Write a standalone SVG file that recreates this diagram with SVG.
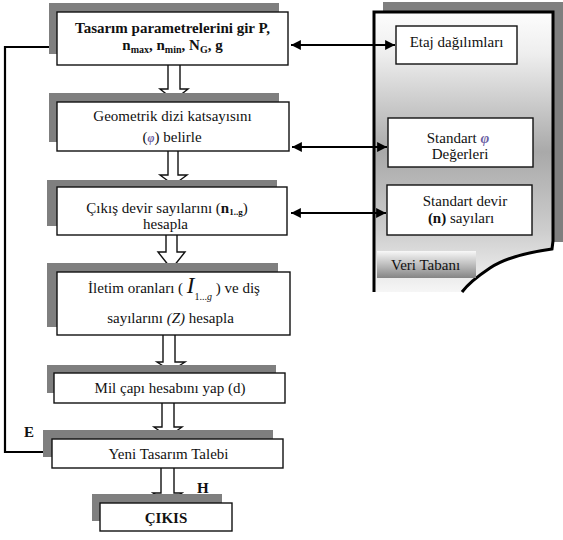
<svg xmlns="http://www.w3.org/2000/svg" width="563" height="540" viewBox="0 0 563 540" font-family="'Liberation Serif','Times New Roman',serif">
<style>
text{font-family:"Liberation Serif","Times New Roman",serif;font-size:15px;fill:#111}
.b{font-weight:bold}
.sh{fill:#7f7f7f}
.bx{fill:#fff;stroke:#111;stroke-width:1.4}
.ha{fill:#fff;stroke:#111;stroke-width:1.4;stroke-linejoin:miter}
.con{fill:none;stroke:#000;stroke-width:2.2}
.phi{fill:#6b5fa3;font-style:italic;font-weight:bold}
</style>
<defs>
<marker id="ah" viewBox="0 0 10 10" refX="10" refY="5" markerWidth="5" markerHeight="4.5" orient="auto-start-reverse" markerUnits="strokeWidth">
<path d="M0,0 L10,5 L0,10 Z" fill="#000"/>
</marker>
<linearGradient id="dbg" gradientUnits="userSpaceOnUse" x1="0" y1="12" x2="0" y2="292">
<stop offset="0" stop-color="#fdfdfd"/>
<stop offset="0.15" stop-color="#eeeeee"/>
<stop offset="0.5" stop-color="#a9a9a9"/>
<stop offset="0.78" stop-color="#cdcdcd"/>
<stop offset="1" stop-color="#f6f6f6"/>
</linearGradient>
<linearGradient id="vtg" x1="0" y1="0" x2="0" y2="1">
<stop offset="0" stop-color="#f8f8f8"/>
<stop offset="1" stop-color="#858585"/>
</linearGradient>
</defs>

<!-- Database container -->
<g id="veri-tabani">
<rect class="sh" x="383" y="2" width="180" height="240"/>
<path d="M374,292 V12 H553 V241 L552,249 C530,252 505,258 490,268 C478,276 468,284 462,292 Z" fill="url(#dbg)"/>
<path d="M374,292 V12 H553 V241 L552,249 C530,252 505,258 490,268 C478,276 468,284 462,292" fill="none" stroke="#000" stroke-width="3"/>
<rect x="377" y="251" width="99" height="27" fill="url(#vtg)"/>
<text x="391" y="270">Veri Tabanı</text>
</g>

<g id="etaj">
<rect class="bx" x="396" y="26" width="121" height="38"/>
<text x="456.5" y="47" text-anchor="middle">Etaj dağılımları</text>
</g>
<g id="standart-phi">
<rect class="bx" x="388" y="118" width="145" height="49"/>
<text x="458" y="143" text-anchor="middle">Standart <tspan class="phi">φ</tspan></text>
<text x="460" y="159" text-anchor="middle">Değerleri</text>
</g>
<g id="standart-devir">
<rect class="bx" x="387" y="185" width="145" height="50"/>
<text x="465" y="206" text-anchor="middle">Standart devir</text>
<text x="461" y="223" text-anchor="middle"><tspan class="b">(n)</tspan> sayıları</text>
</g>

<!-- Hollow flow arrows -->
<g id="flow-arrows">
<path class="ha" d="M168,65 V89 H160 L174,100 L188,89 H180 V65"/>
<path class="ha" d="M168,151 V175 H160 L173.5,185 L187,175 H178 V151"/>
<path class="ha" d="M166,235 V252 H158 L171.5,269 L185,252 H177 V235"/>
<path class="ha" d="M163,335 V362 H157 L171,371 L185,362 H175 V335"/>
<path class="ha" d="M162,403 V427 H154 L168,437 L182,427 H174 V403"/>
<path class="ha" d="M161,468 V493 H153 L167.5,503 L182,493 H174 V468"/>
</g>

<g id="n1">
<rect class="sh" x="49" y="3" width="230" height="51"/>
<rect class="bx" x="57" y="12" width="231" height="53"/>
<text class="b" x="172.5" y="33" text-anchor="middle">Tasarım parametrelerini gir P,</text>
<text class="b" x="172.5" y="50" text-anchor="middle">n<tspan font-size="10" dy="3">max</tspan><tspan dy="-3">, n</tspan><tspan font-size="10" dy="3">min</tspan><tspan dy="-3">, N</tspan><tspan font-size="10" dy="3">G</tspan><tspan dy="-3">, g</tspan></text>
</g>

<g id="n2">
<rect class="sh" x="49" y="93" width="230" height="49"/>
<rect class="bx" x="57" y="102" width="232" height="49"/>
<text x="172.5" y="121" text-anchor="middle">Geometrik dizi katsayısını</text>
<text x="172" y="142" text-anchor="middle">(<tspan class="phi" font-size="12">φ</tspan>)  belirle</text>
</g>

<g id="n3">
<rect class="sh" x="47" y="180" width="230" height="46"/>
<rect class="bx" x="57" y="187" width="230" height="48"/>
<text x="167" y="213" text-anchor="middle">Çıkış devir sayılarını (<tspan class="b">n</tspan><tspan class="b" font-size="9" dy="2">1..g</tspan><tspan dy="-2">)</tspan></text>
<text x="165.5" y="229" text-anchor="middle">hesapla</text>
</g>

<g id="n4">
<rect class="sh" x="47" y="263" width="231" height="64"/>
<rect class="bx" x="57" y="272" width="233" height="63"/>
<text x="174" y="293" text-anchor="middle">İletim oranları ( <tspan font-size="23" font-style="italic">I</tspan><tspan font-size="10" dy="7">1...<tspan font-style="italic">g</tspan></tspan><tspan dy="-7"> ) ve diş</tspan></text>
<text x="170.5" y="323" text-anchor="middle">sayılarını <tspan font-style="italic">(Z)</tspan> hesapla</text>
</g>

<g id="n5">
<rect class="sh" x="47" y="365" width="229" height="28"/>
<rect class="bx" x="54" y="373" width="231" height="30"/>
<text x="170" y="393" text-anchor="middle">Mil çapı hesabını yap (d)</text>
</g>

<g id="n6">
<rect class="sh" x="43" y="430" width="230" height="27"/>
<rect class="bx" x="52" y="439" width="231" height="29"/>
<text x="168.5" y="459" text-anchor="middle">Yeni Tasarım Talebi</text>
</g>

<g id="n7">
<rect class="sh" x="92" y="494" width="130" height="27"/>
<rect class="bx" x="100" y="503" width="132" height="28"/>
<text class="b" x="166" y="523" text-anchor="middle">ÇIKIS</text>
</g>

<!-- Connectors -->
<g id="connectors">
<path class="con" d="M43,452 H5 V47 H49"/>
<line class="con" x1="291" y1="45" x2="395" y2="45" stroke-width="2" marker-start="url(#ah)" marker-end="url(#ah)"/>
<line class="con" x1="292" y1="147" x2="387" y2="147" stroke-width="2" marker-start="url(#ah)" marker-end="url(#ah)"/>
<line class="con" x1="291" y1="213" x2="386" y2="213" stroke-width="2" marker-start="url(#ah)" marker-end="url(#ah)"/>
<text class="b" x="24" y="437">E</text>
<text class="b" x="197" y="493">H</text>
</g>
</svg>
